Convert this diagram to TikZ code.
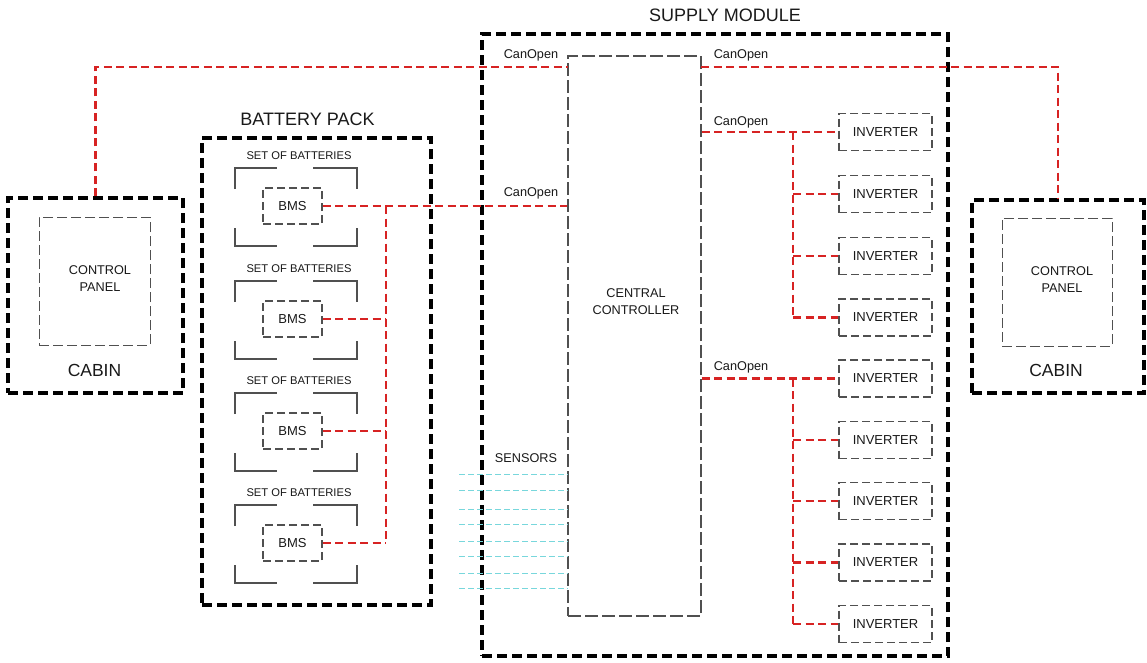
\documentclass[tikz,border=0pt]{standalone}
\usepackage{fontspec}
\setmainfont{Liberation Sans}
\definecolor{cred}{RGB}{215,35,35}
\definecolor{ccyan}{RGB}{120,215,220}
\definecolor{cgray}{RGB}{80,80,80}
\definecolor{ctext}{RGB}{25,25,25}
\begin{document}
\begin{tikzpicture}[x=1pt,y=-1pt,
  outerbox/.style={draw=black,line width=3.5pt,dash pattern=on 10pt off 5pt,minimum width=#1,inner sep=0pt},
  panelbox/.style={draw=cgray,line width=1pt,dash pattern=on 10pt off 4pt,minimum width=111pt,minimum height=128pt,inner sep=0pt},
  bmsbox/.style={draw=cgray,line width=1.3pt,dash pattern=on 8pt off 4pt,minimum width=59pt,minimum height=36pt,inner sep=0pt,font=\fontsize{13}{15}\selectfont,text=ctext},
  invbox/.style={draw=cgray,line width=1.3pt,dash pattern=on 8pt off 4pt,minimum width=93pt,minimum height=37pt,inner sep=0pt,font=\fontsize{13}{15}\selectfont,text=ctext},
  ccbox/.style={draw=cgray,line width=1.2pt,dash pattern=on 13pt off 4pt,minimum width=133pt,minimum height=560pt,inner sep=0pt},
  redline/.style={draw=cred,line width=2.2pt,dash pattern=on 8pt off 4.5pt},
  cyanline/.style={draw=ccyan,line width=1pt,dash pattern=on 6pt off 3pt},
  bracket/.style={draw=cgray,line width=1.3pt},
  bigtxt/.style={font=\fontsize{18}{21}\selectfont,text=ctext,inner sep=0pt},
  cabtxt/.style={font=\fontsize{17.5}{20}\selectfont,text=ctext,inner sep=0pt},
  smalltxt/.style={font=\fontsize{12.7}{17}\selectfont,text=ctext,inner sep=0pt,align=center},
  settxt/.style={font=\fontsize{11.2}{13}\selectfont,text=ctext,inner sep=0pt},
]
\useasboundingbox (0,0) rectangle (1147,662);
\fill[white] (0,0) rectangle (1147,662);

% ---- left cabin
\node[outerbox=175pt,minimum height=195pt] (cabL) at (95.5,295.5) {};
\node[panelbox] (panL) at (94.5,281) {};
\node[smalltxt] (panLt) at (100,279) {CONTROL\\PANEL};
\node[cabtxt] (cabLt) at (94.5,370) {CABIN};

% ---- right cabin
\node[outerbox=172pt,minimum height=193pt] (cabR) at (1058,296.5) {};
\node[panelbox,minimum width=110pt] (panR) at (1057,282) {};
\node[smalltxt] (panRt) at (1062,279.5) {CONTROL\\PANEL};
\node[cabtxt] (cabRt) at (1056,370) {CABIN};

% ---- battery pack
\node[outerbox=229pt,minimum height=467pt] (bp) at (316.5,371.5) {};
\node[bigtxt] (bpt) at (307.5,119) {BATTERY PACK};
\foreach \t/\n in {168/1,281/2,393/3,505/4}{
  \node[settxt] (set\n) at (299,\t-12.5) {SET OF BATTERIES};
  \draw[bracket] (235,\t+21) -- (235,\t) -- (277,\t);
  \draw[bracket] (313,\t) -- (357,\t) -- (357,\t+21);
  \draw[bracket] (235,\t+60) -- (235,\t+78) -- (277,\t+78);
  \draw[bracket] (313,\t+78) -- (357,\t+78) -- (357,\t+60);
  \node[bmsbox] (bms\n) at (292.5,\t+38) {BMS};
}

% ---- supply module
\node[outerbox=466pt,minimum height=622pt] (sm) at (715,345) {};
\node[bigtxt] (smt) at (725,15) {SUPPLY MODULE};
\node[ccbox] (cc) at (634.5,336) {};
\node[smalltxt] (cct) at (636,302) {CENTRAL\\CONTROLLER};

\foreach \y/\n in {132/1,194/2,256/3,317.5/4,378.5/5,440/6,501/7,562.5/8,624/9}{
  \node[invbox] (inv\n) at (885.5,\y) {INVERTER};
}

% ---- labels
\node[smalltxt] (co1) at (531,55) {CanOpen};
\node[smalltxt] (co2) at (531,193) {CanOpen};
\node[smalltxt] (co3) at (741,55) {CanOpen};
\node[smalltxt] (co4) at (741,122) {CanOpen};
\node[smalltxt] (co5) at (741,367) {CanOpen};
\node[smalltxt] (sens) at (526,458) {SENSORS};

% ---- red connections
\coordinate (ccL67) at (568,67);
\coordinate (ccR67) at (701,67);
\draw[redline] (cabL.north) |- (ccL67);
\draw[redline] (ccR67) -| (cabR.north);

\coordinate (busB) at (386,0);
\draw[redline] (bms1.east) -- (cc.west |- bms1.east);
\draw[redline] (busB |- bms1.east) -- (busB |- bms4.east);
\foreach \n in {2,3,4}{
  \draw[redline] (bms\n.east) -- (busB |- bms\n.east);
}

\coordinate (busR) at (793,0);
\draw[redline] (cc.east |- inv1.west) -- (inv1.west);
\draw[redline] (busR |- inv1.west) -- (busR |- inv4.west);
\foreach \n in {2,3,4}{
  \draw[redline] (busR |- inv\n.west) -- (inv\n.west);
}
\draw[redline] (cc.east |- inv5.west) -- (inv5.west);
\draw[redline] (busR |- inv5.west) -- (busR |- inv9.west);
\foreach \n in {6,7,8,9}{
  \draw[redline] (busR |- inv\n.west) -- (inv\n.west);
}

% ---- sensor lines
\coordinate (sensL) at (459,0);
\foreach \y in {474,490,509,524,541,556,573,588}{
  \draw[cyanline] (sensL |- 0,\y) -- (cc.west |- 0,\y);
}
\end{tikzpicture}
\end{document}
